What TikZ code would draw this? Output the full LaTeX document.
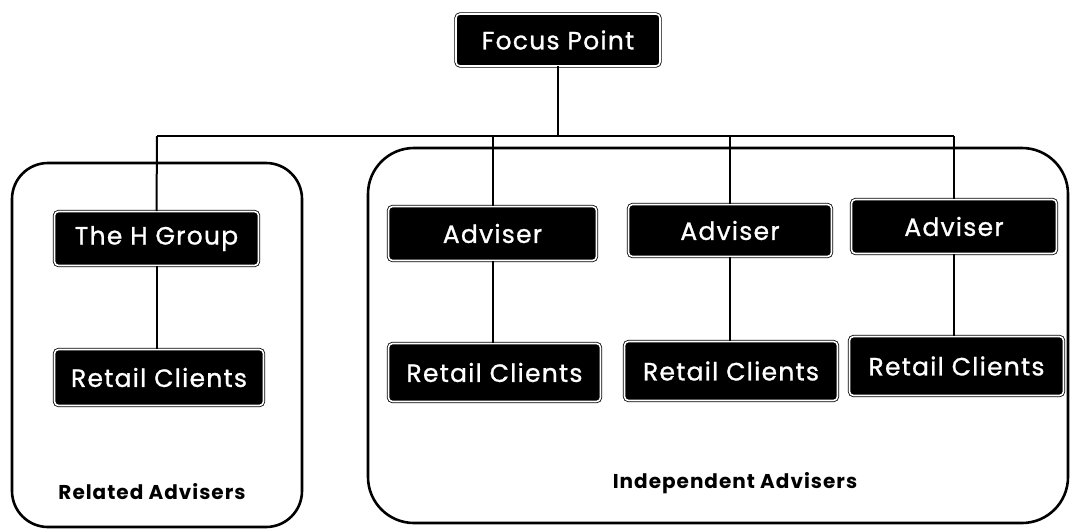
\documentclass[tikz,border=0pt]{standalone}
\usepackage{fontspec}
\setmainfont{Poppins}
\newfontfamily\boxfont[LetterSpace=5, FakeBold=1]{Poppins}
\newfontfamily\labelfont[LetterSpace=5]{Poppins}
\tikzset{
  box/.style={fill=black, draw=black, double=white, double distance=1.6pt, line width=0.8pt,
    rounded corners=4pt, text=white, inner sep=0pt, font=\boxfont\fontsize{25}{27}\selectfont},
  group/.style={draw=black, line width=2.6pt, fill=white},
  link/.style={draw=black, line width=2pt},
  grouplabel/.style={font=\labelfont\bfseries\fontsize{20}{22}\selectfont, text=black, inner sep=0pt}
}
\begin{document}
\begin{tikzpicture}[x=1pt,y=-1pt]
\useasboundingbox (0,0) rectangle (1070,531);
% containers
\draw[group, rounded corners=36pt] (12,163) rectangle (302,527);
\draw[group, rounded corners=46pt] (368,148) rectangle (1068,523);
% boxes
\node[box, minimum width=204pt, minimum height=52pt] (focus) at (558,40) {Focus Point};
\node[box, minimum width=204pt, minimum height=54pt] (hgroup) at (156.5,238.5) {The H Group};
\node[box, minimum width=209pt, minimum height=56pt] (rc0) at (159,377.5) {Retail Clients};
\node[box, minimum width=208pt, minimum height=54pt] (adv1) at (492.5,233.5) {Adviser};
\node[box, minimum width=203pt, minimum height=52pt] (adv2) at (730,230.5) {Adviser};
\node[box, minimum width=205pt, minimum height=54pt] (adv3) at (954,226.5) {Adviser};
\node[box, minimum width=212pt, minimum height=58pt] (rc1) at (494.5,372.5) {Retail Clients};
\node[box, minimum width=213pt, minimum height=59pt] (rc2) at (731,371) {Retail Clients};
\node[box, minimum width=214pt, minimum height=59pt] (rc3) at (956.5,366) {Retail Clients};
% labels
\node[grouplabel] (lblrel) at (152,492) {Related Advisers};
\node[grouplabel] (lblind) at (735,483) {Independent Advisers};
% bus
\coordinate (bus) at (558,136);
\coordinate (busL) at (157,136);
\coordinate (busR) at (954,136);
\draw[link] (focus.south) -- (bus);
\draw[link] (busL) -- (busR);
\draw[link] (busL) -- (hgroup.north);
\draw[link] (adv1.north |- bus) -- (adv1.north);
\draw[link] (adv2.north |- bus) -- (adv2.north);
\draw[link] (busR) -- (adv3.north);
% down links
\draw[link] (hgroup.south) -- (rc0.north -| hgroup.south);
\draw[link] (adv1.south) -- (rc1.north -| adv1.south);
\draw[link] (adv2.south) -- (rc2.north -| adv2.south);
\draw[link] (adv3.south) -- (rc3.north -| adv3.south);
\end{tikzpicture}
\end{document}
